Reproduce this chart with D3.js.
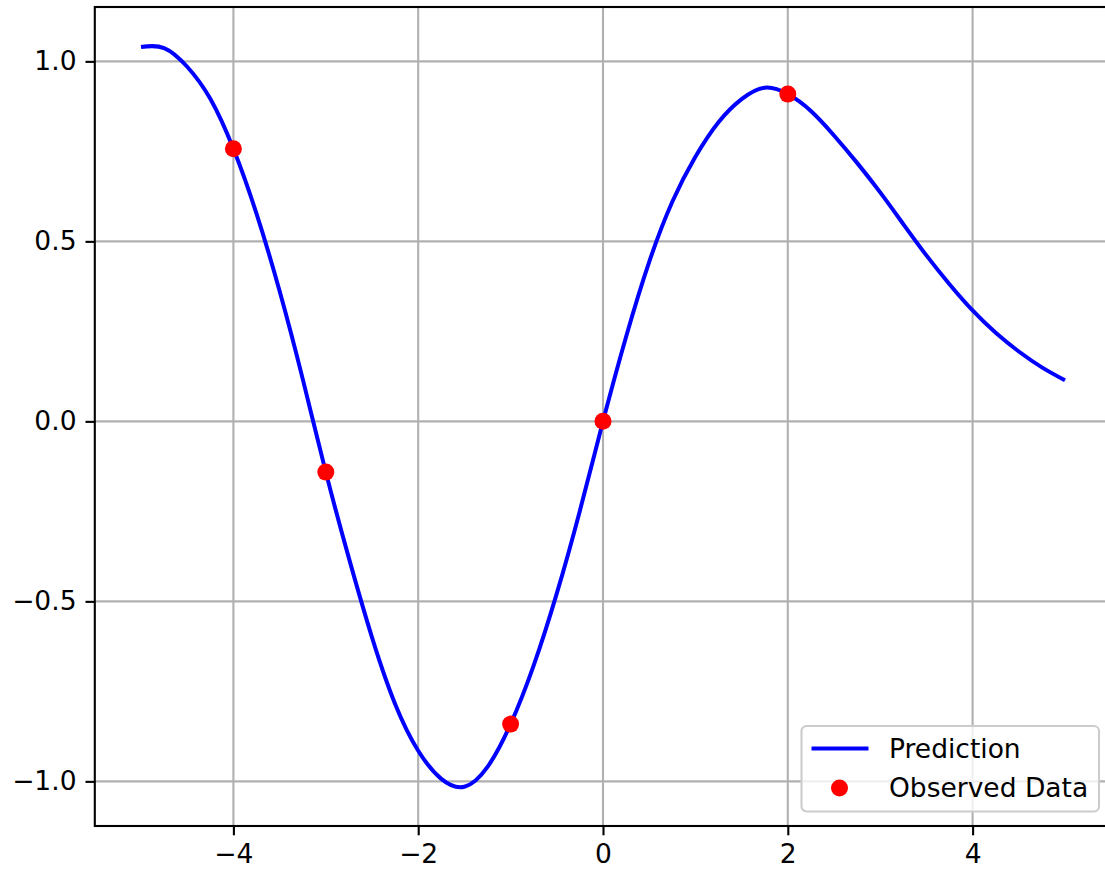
<!DOCTYPE html>
<html>
<head>
<meta charset="utf-8">
<script src="https://cdn.jsdelivr.net/npm/d3@7"></script>
<style>
  body { margin: 0; background: #fff; }
  text { font-family: "DejaVu Sans", sans-serif; fill: #000; }
</style>
</head>
<body>
<svg id="chart" width="1105" height="871"></svg>
<script>
// values
const predX = [-5.0, -4.75, -4.5, -4.25, -4.0, -3.75, -3.5, -3.25, -3.0, -2.75, -2.5, -2.25, -2.0,
               -1.75, -1.5, -1.25, -1.0, -0.75, -0.5, -0.25, 0.0, 0.25, 0.5, 0.75, 1.0, 1.25, 1.5,
               1.75, 2.0, 2.25, 2.5, 2.75, 3.0, 3.25, 3.5, 3.75, 4.0, 4.25, 4.5, 4.75, 5.0]
const predY = [1.040, 1.037, 0.985, 0.896, 0.757, 0.577, 0.362, 0.118, -0.141, -0.380, -0.600, -0.785, -0.915,
               -0.993, -1.015, -0.960, -0.841, -0.678, -0.478, -0.248, 0.0, 0.235, 0.443, 0.610, 0.735, 0.831, 0.895,
               0.927, 0.909, 0.862, 0.794, 0.718, 0.636, 0.548, 0.461, 0.381, 0.308, 0.246, 0.194, 0.150, 0.114]

const obsX = [-4, -3, -1, 0, 2]
const obsY = [0.757, -0.141, -0.841, 0.0, 0.909]

const xTicks = [-4, -2, 0, 2, 4]
const xTickLabels = ['−4', '−2', '0', '2', '4']
const yTicks = [-1.0, -0.5, 0.0, 0.5, 1.0]
const yTickLabels = ['−1.0', '−0.5', '0.0', '0.5', '1.0']

const legendLabels = ['Prediction', 'Observed Data']

const marginLeft = 94.8, marginTop = 7, plotW = 1016.4, plotH = 819

const svg = d3.select('#chart')
const g = svg.append('g').attr('transform', `translate(${marginLeft},${marginTop})`)

const x = d3.scaleLinear().domain([-5.5, 5.5]).range([0, plotW])
const y = d3.scaleLinear().domain([-1.124, 1.151]).range([plotH, 0])

// grid
g.append('g').selectAll('line').data(xTicks).enter().append('line')
  .attr('x1', d => x(d)).attr('x2', d => x(d))
  .attr('y1', 0).attr('y2', plotH)
  .attr('stroke', '#b0b0b0').attr('stroke-width', 2.1)
g.append('g').selectAll('line').data(yTicks).enter().append('line')
  .attr('x1', 0).attr('x2', plotW)
  .attr('y1', d => y(d)).attr('y2', d => y(d))
  .attr('stroke', '#b0b0b0').attr('stroke-width', 2.1)

// prediction line
const pts = predX.map((v, i) => [v, predY[i]])
g.append('path')
  .datum(pts)
  .attr('fill', 'none')
  .attr('stroke', '#0000ff')
  .attr('stroke-width', 4)
  .attr('stroke-linejoin', 'round')
  .attr('stroke-linecap', 'butt')
  .attr('d', d3.line().x(d => x(d[0])).y(d => y(d[1])).curve(d3.curveNatural))

// observed points
g.append('g').selectAll('circle').data(obsX).enter().append('circle')
  .attr('cx', d => x(d))
  .attr('cy', (d, i) => y(obsY[i]))
  .attr('r', 8.5)
  .attr('fill', '#ff0000')

// axes
const xAxis = d3.axisBottom(x).tickValues(xTicks).tickFormat((d, i) => xTickLabels[i])
  .tickSize(9.3).tickPadding(9)
const yAxis = d3.axisLeft(y).tickValues(yTicks).tickFormat((d, i) => yTickLabels[i])
  .tickSize(9.3).tickPadding(9)

const gx = g.append('g').attr('transform', `translate(0,${plotH})`).call(xAxis)
const gy = g.append('g').call(yAxis)
;[gx, gy].forEach(a => {
  a.select('.domain').remove()
  a.selectAll('.tick line').attr('stroke', '#000').attr('stroke-width', 2.1)
  a.selectAll('.tick text').attr('font-size', '26.5px').attr('font-family', '"DejaVu Sans", sans-serif').attr('fill', '#000')
})

// spines
g.append('rect')
  .attr('x', 0).attr('y', 0).attr('width', plotW).attr('height', plotH)
  .attr('fill', 'none').attr('stroke', '#000').attr('stroke-width', 2.1)

// legend
const lg = svg.append('g').attr('transform', 'translate(801.5,726)')
lg.append('rect')
  .attr('width', 297.5).attr('height', 85.5).attr('rx', 5)
  .attr('fill', '#fff').attr('fill-opacity', 0.8)
  .attr('stroke', '#cccccc').attr('stroke-width', 2.1)
lg.append('line')
  .attr('x1', 10).attr('x2', 67).attr('y1', 22.5).attr('y2', 22.5)
  .attr('stroke', '#0000ff').attr('stroke-width', 4)
lg.append('circle').attr('cx', 38).attr('cy', 62).attr('r', 8.5).attr('fill', '#ff0000')
lg.selectAll('text.lab').data(legendLabels).enter().append('text')
  .attr('class', 'lab')
  .attr('x', 87.5)
  .attr('y', (d, i) => 22.5 + i * 39.5)
  .attr('dy', '0.35em')
  .attr('font-size', '26.5px')
  .text(d => d)
</script>
</body>
</html>
